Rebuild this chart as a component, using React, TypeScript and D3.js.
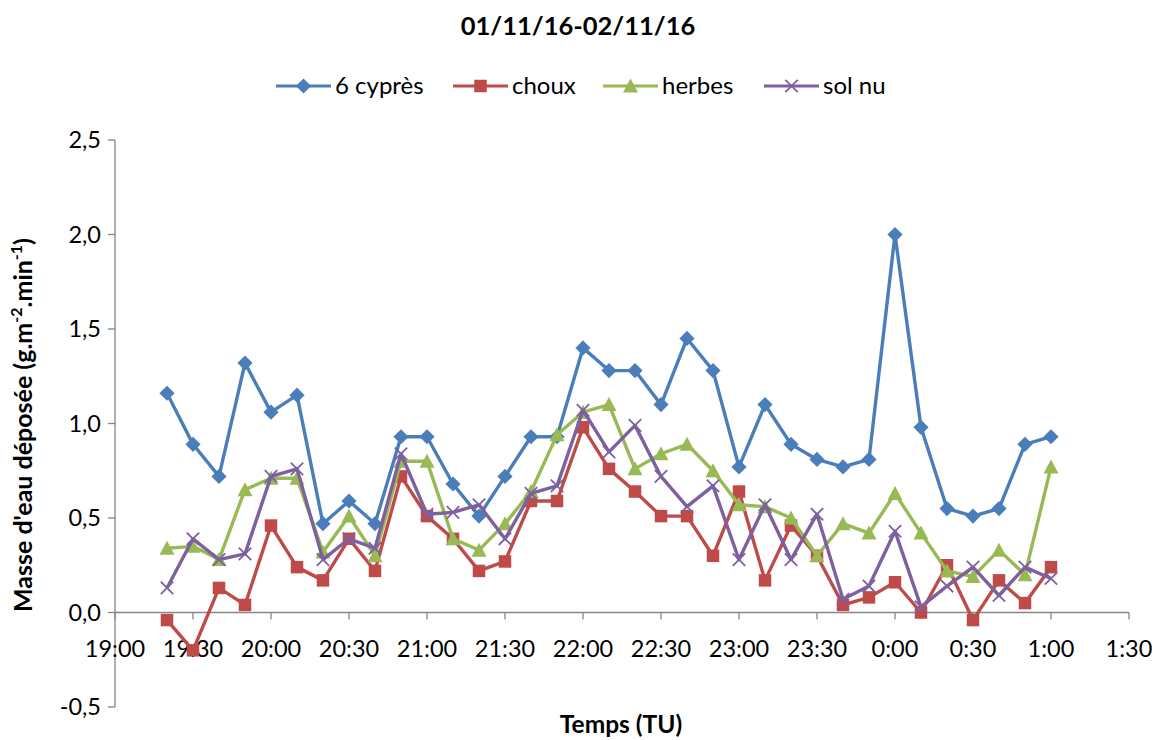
import React from "react";
import * as d3 from "d3";

const times = [
  "19:20", "19:30", "19:40", "19:50", "20:00", "20:10", "20:20", "20:30", "20:40", "20:50",
  "21:00", "21:10", "21:20", "21:30", "21:40", "21:50", "22:00", "22:10", "22:20", "22:30",
  "22:40", "22:50", "23:00", "23:10", "23:20", "23:30", "23:40", "23:50", "0:00", "0:10",
  "0:20", "0:30", "0:40", "0:50", "1:00",
];

const cypres = [
  1.16, 0.89, 0.72, 1.32, 1.06, 1.15, 0.47, 0.59, 0.47, 0.93,
  0.93, 0.68, 0.51, 0.72, 0.93, 0.93, 1.4, 1.28, 1.28, 1.1,
  1.45, 1.28, 0.77, 1.1, 0.89, 0.81, 0.77, 0.81, 2.0, 0.98,
  0.55, 0.51, 0.55, 0.89, 0.93,
];

const choux = [
  -0.04, -0.2, 0.13, 0.04, 0.46, 0.24, 0.17, 0.39, 0.22, 0.72,
  0.51, 0.39, 0.22, 0.27, 0.59, 0.59, 0.98, 0.76, 0.64, 0.51,
  0.51, 0.3, 0.64, 0.17, 0.46, 0.3, 0.04, 0.08, 0.16, 0.0,
  0.25, -0.04, 0.17, 0.05, 0.24,
];

const herbes = [
  0.34, 0.35, 0.28, 0.65, 0.71, 0.71, 0.32, 0.51, 0.3, 0.8,
  0.8, 0.39, 0.33, 0.47, 0.64, 0.94, 1.06, 1.1, 0.76, 0.84,
  0.89, 0.75, 0.57, 0.56, 0.5, 0.3, 0.47, 0.42, 0.63, 0.42,
  0.22, 0.19, 0.33, 0.2, 0.77,
];

const solNu = [
  0.13, 0.39, 0.28, 0.31, 0.72, 0.76, 0.28, 0.39, 0.34, 0.84,
  0.52, 0.53, 0.57, 0.39, 0.63, 0.67, 1.07, 0.85, 0.99, 0.72,
  0.56, 0.67, 0.28, 0.57, 0.28, 0.52, 0.07, 0.14, 0.43, 0.03,
  0.14, 0.24, 0.09, 0.24, 0.18,
];

const seriesNames = ["6 cyprès", "choux", "herbes", "sol nu"];
const seriesColors = ["#4A7EBB", "#BE4B48", "#98B954", "#7D60A0"];
const seriesMarkers = ["diamond", "square", "triangle", "x"];

const xTickLabels = [
  "19:00", "19:30", "20:00", "20:30", "21:00", "21:30", "22:00",
  "22:30", "23:00", "23:30", "0:00", "0:30", "1:00", "1:30",
];
const yTicks = [-0.5, 0, 0.5, 1.0, 1.5, 2.0, 2.5];

const title = "01/11/16-02/11/16";
const xTitle = "Temps (TU)";

// minutes since 19:00 (times after midnight belong to next day)
function toMin(s: string): number {
  const [h, m] = s.split(":").map(Number);
  const hh = h < 12 ? h + 24 : h;
  return hh * 60 + m - 19 * 60;
}

const W = 1156;
const H = 740;
const FONT = "Lato, 'Open Sans', sans-serif";
const AXIS = "#868686";

function Marker({ type, x, y, color }: { type: string; x: number; y: number; color: string }) {
  if (type === "diamond") {
    const r = 7.6;
    return <path d={`M${x},${y - r}L${x + r},${y}L${x},${y + r}L${x - r},${y}Z`} fill={color} />;
  }
  if (type === "square") {
    const s = 12.5;
    return <rect x={x - s / 2} y={y - s / 2} width={s} height={s} fill={color} />;
  }
  if (type === "triangle") {
    const w = 15, h = 13;
    return <path d={`M${x},${y - h / 2 - 1}L${x + w / 2},${y + h / 2}L${x - w / 2},${y + h / 2}Z`} fill={color} />;
  }
  const r = 6.2;
  return (
    <path
      d={`M${x - r},${y - r}L${x + r},${y + r}M${x - r},${y + r}L${x + r},${y - r}`}
      stroke={color}
      strokeWidth={1.8}
      fill="none"
    />
  );
}

export default function App() {
  const x = d3.scaleLinear().domain([toMin("19:00"), toMin("1:30")]).range([115, 1129]);
  const y = d3.scaleLinear().domain([-0.5, 2.5]).range([707, 140]);

  const allSeries = [cypres, choux, herbes, solNu];
  const line = d3
    .line<[number, number]>()
    .x((d) => x(d[0]))
    .y((d) => y(d[1]));

  const legendStarts = [276, 453, 603, 764];
  const legendY = 86;

  return (
    <svg
      width={W}
      height={H}
      style={{ position: "absolute", left: 0, top: 0, background: "#fff" }}
      fontFamily={FONT}
    >
      <rect width={W} height={H} fill="#fff" />
      {/* title */}
      <text x={578} y={35} textAnchor="middle" fontSize={25.5} fontWeight="bold" fill="#000">
        {title}
      </text>

      {/* legend */}
      {seriesNames.map((name, i) => {
        const x0 = legendStarts[i];
        return (
          <g key={name}>
            <line x1={x0} x2={x0 + 55} y1={legendY} y2={legendY} stroke={seriesColors[i]} strokeWidth={3.2} />
            <Marker type={seriesMarkers[i]} x={x0 + 27.5} y={legendY} color={seriesColors[i]} />
            <text x={x0 + 59} y={legendY + 8} fontSize={24} fill="#000">
              {name}
            </text>
          </g>
        );
      })}

      {/* y axis */}
      <line x1={115} x2={115} y1={y(2.5)} y2={y(-0.5)} stroke={AXIS} strokeWidth={1.3} />
      {yTicks.map((t) => (
        <g key={t}>
          <line x1={108} x2={115} y1={y(t)} y2={y(t)} stroke={AXIS} strokeWidth={1.3} />
          <text x={101} y={y(t) + 8} textAnchor="end" fontSize={23.5} fill="#000">
            {d3.format(".1f")(t).replace(".", ",").replace("−", "-")}
          </text>
        </g>
      ))}

      {/* x axis at zero */}
      <line x1={x(toMin("19:00"))} x2={x(toMin("1:30"))} y1={y(0)} y2={y(0)} stroke={AXIS} strokeWidth={1.3} />
      {xTickLabels.map((lab) => (
        <g key={lab}>
          <line x1={x(toMin(lab))} x2={x(toMin(lab))} y1={y(0)} y2={y(0) + 7} stroke={AXIS} strokeWidth={1.3} />
          <text x={x(toMin(lab))} y={y(0) + 44} textAnchor="middle" fontSize={23.5} fill="#000">
            {lab}
          </text>
        </g>
      ))}

      {/* series */}
      {allSeries.map((vals, i) => {
        const pts: [number, number][] = vals.map((v, j) => [toMin(times[j]), v]);
        return (
          <g key={i}>
            <path d={line(pts) || ""} fill="none" stroke={seriesColors[i]} strokeWidth={3.4} strokeLinejoin="round" />
            {pts.map((p, j) => (
              <Marker key={j} type={seriesMarkers[i]} x={x(p[0])} y={y(p[1])} color={seriesColors[i]} />
            ))}
          </g>
        );
      })}

      {/* axis titles */}
      <text x={621} y={733} textAnchor="middle" fontSize={24.5} fontWeight="bold" fill="#000">
        {xTitle}
      </text>
      <text
        transform={`translate(32,425) rotate(-90)`}
        textAnchor="middle"
        fontSize={25}
        fontWeight="bold"
        fill="#000"
      >
        <tspan>Masse d'eau déposée (g.m</tspan>
        <tspan fontSize={16} dy={-10}>-2</tspan>
        <tspan dy={10}>.min</tspan>
        <tspan fontSize={16} dy={-10}>-1</tspan>
        <tspan dy={10}>)</tspan>
      </text>
    </svg>
  );
}
